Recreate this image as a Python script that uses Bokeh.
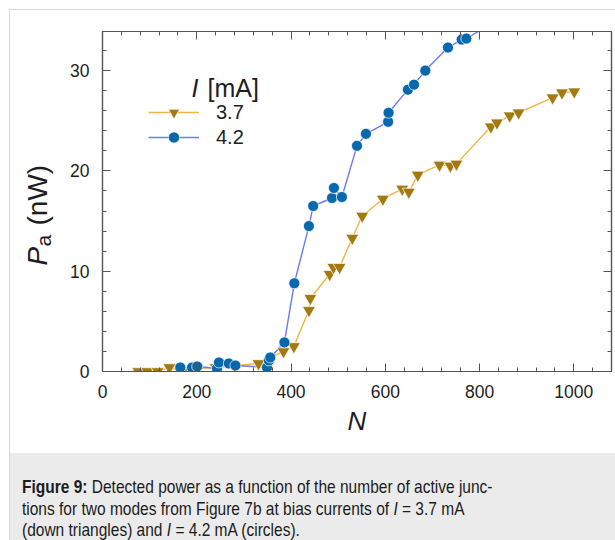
import numpy as np
from bokeh.plotting import figure
from bokeh.models import (Range1d, LinearAxis, SingleIntervalTicker, Legend,
                          LegendItem, Label, Div, ColumnDataSource)
from bokeh.layouts import column, row
from bokeh.embed import file_html
from bokeh.resources import INLINE

# Detected power P_a (nW) versus number of active junctions N
n_37 = [76, 95, 117, 142, 170, 201, 240, 331, 384, 406, 438, 441, 482, 490, 503,
        530, 551, 595, 636, 650, 669, 715, 738, 751, 824, 837, 864, 883, 955, 975, 1001]
p_37 = [0.0, 0.0, 0.0, 0.4, 0.0, 0.3, 0.4, 0.8, 2.0, 2.5, 6.1, 7.3, 9.7, 10.4, 10.4,
        13.3, 15.5, 17.2, 18.2, 17.9, 19.6, 20.6, 20.5, 20.7, 24.4, 24.8, 25.5, 25.8, 27.3, 27.8, 27.9]

n_42 = [165, 190, 201, 243, 247, 268, 282, 349, 353, 356, 386, 407, 438, 447, 487,
        491, 508, 540, 559, 606, 607, 648, 661, 685, 733, 762, 772, 830]
p_42 = [0.4, 0.4, 0.5, 0.3, 0.9, 0.8, 0.6, 0.4, 1.1, 1.4, 2.9, 8.8, 14.5, 16.5, 17.3,
        18.3, 17.4, 22.5, 23.7, 24.9, 25.8, 28.1, 28.6, 30.0, 32.3, 33.1, 33.2, 34.8]

series_labels = ["3.7", "4.2"]
x_limits = (0, 1080)
y_limits = (0, 33.9)

FONT = "Liberation Sans"
FRAME = "#555555"
TEXT = "#1e1e1e"

p = figure(width=549, height=443, x_range=Range1d(*x_limits), y_range=Range1d(*y_limits),
           output_backend="svg", toolbar_location=None,
           min_border_left=36, min_border_right=4, min_border_top=21, min_border_bottom=82,
           background_fill_color="white", border_fill_color="white",
           outline_line_color=FRAME, outline_line_width=1.2)
p.xgrid.visible = False
p.ygrid.visible = False

x_ticker = SingleIntervalTicker(interval=200, num_minor_ticks=5)
y_ticker = SingleIntervalTicker(interval=10, num_minor_ticks=5)


def style_axis(ax):
    ax.axis_line_color = FRAME
    ax.axis_line_width = 1.2
    ax.major_tick_line_color = FRAME
    ax.minor_tick_line_color = FRAME
    ax.major_tick_in = 8
    ax.major_tick_out = 0
    ax.minor_tick_in = 4
    ax.minor_tick_out = 0
    ax.major_label_text_font = FONT
    ax.major_label_text_font_size = "17.5px"
    ax.major_label_text_color = TEXT
    ax.major_label_standoff = 13


xb = p.xaxis[0]
xb.ticker = x_ticker
style_axis(xb)
xb.axis_label = "N"
xb.axis_label_text_font = FONT
xb.axis_label_text_font_style = "italic"
xb.axis_label_text_font_size = "26px"
xb.axis_label_text_color = TEXT
xb.axis_label_standoff = 5

yl = p.yaxis[0]
yl.ticker = y_ticker
style_axis(yl)

# mirrored tick marks on top and right; their labels are not drawn
for loc, tk in (("above", x_ticker), ("right", y_ticker)):
    ax = LinearAxis(ticker=tk)
    style_axis(ax)
    ax.major_label_text_color = None
    ax.major_label_text_font_size = "1px"
    ax.major_label_standoff = 0
    p.add_layout(ax, loc)

src37 = ColumnDataSource(dict(n=n_37, p=p_37))
src42 = ColumnDataSource(dict(n=n_42, p=p_42))

l37 = p.line("n", "p", source=src37, line_color="#f0b445", line_width=1.4)
l42 = p.line("n", "p", source=src42, line_color="#6a7cf2", line_width=1.4)
m37 = p.scatter("n", "p", source=src37, marker="inverted_triangle", size=13,
                fill_color="#a37a12", line_color="white", line_width=0.7)
m42 = p.scatter("n", "p", source=src42, marker="circle", size=11,
                fill_color="#0868ac", line_color="white", line_width=0.7)

# one single-entry legend per series, stacked under the heading
legend_style = dict(padding=0, margin=0, glyph_width=51, glyph_height=28,
                    label_height=20, label_standoff=17, label_text_font=FONT,
                    label_text_font_size="20px", label_text_color=TEXT,
                    border_line_alpha=0, background_fill_alpha=0)
p.add_layout(Legend(items=[LegendItem(label=series_labels[0], renderers=[l37, m37])],
                    location=(46, 245), **legend_style))
p.add_layout(Legend(items=[LegendItem(label=series_labels[1], renderers=[l42, m42])],
                    location=(46, 220), **legend_style))

# legend heading: italic current symbol followed by its unit
head = dict(x_units="screen", y_units="screen", text_font=FONT, text_font_size="25px",
            text_color=TEXT, text_baseline="alphabetic", text_align="left")
p.add_layout(Label(x=89, y=284, text="I", text_font_style="italic", **head))
p.add_layout(Label(x=105, y=284, text="[mA]", **head))

# narrow panel left of the plot carrying the y axis title:
# italic P with subscript a, then the unit, reading upwards
ylab_fig = figure(width=56, height=443, x_range=Range1d(0, 1), y_range=Range1d(0, 1),
                  x_axis_type=None, y_axis_type=None, min_border=0,
                  outline_line_color=None, toolbar_location=None, output_backend="svg",
                  background_fill_color="white", border_fill_color="white")
ylab_fig.xgrid.visible = False
ylab_fig.ygrid.visible = False
ylab = dict(x_units="screen", y_units="screen", angle=np.pi / 2, text_font=FONT,
            text_color=TEXT, text_baseline="alphabetic", text_align="left")
ylab_fig.add_layout(Label(x=27, y=106, text="P", text_font_size="28px",
                          text_font_style="italic", **ylab))
ylab_fig.add_layout(Label(x=33, y=125, text="a", text_font_size="21px", **ylab))
ylab_fig.add_layout(Label(x=27, y=146, text="(nW)", text_font_size="28px", **ylab))

caption_html = (
    '<div style="width:605px;height:87px;box-sizing:border-box;padding:23px 0 0 12px;'
    'background:#ebebeb;overflow:hidden;">'
    '<div style="font-family:\'Liberation Sans\',Arial,sans-serif;font-size:18.5px;'
    'line-height:21.7px;color:#1c1c1c;white-space:nowrap;transform:scaleX(0.838);'
    'transform-origin:0 0;">'
    '<b>Figure 9:</b> Detected power as a function of the number of active junc-<br>'
    'tions for two modes from Figure 7b at bias currents of <i>I</i> = 3.7 mA<br>'
    '(down triangles) and <i>I</i> = 4.2 mA (circles).'
    '</div></div>'
)
caption = Div(text=caption_html, width=605, height=87, margin=0)

page = column(row(ylab_fig, p, spacing=0), caption, spacing=0,
              styles={"margin-left": "9px", "margin-top": "9px",
                      "border-left": "1px solid #d8d8d8", "border-top": "1px solid #d8d8d8"})

open("out.html", "w").write(file_html(page, INLINE))
